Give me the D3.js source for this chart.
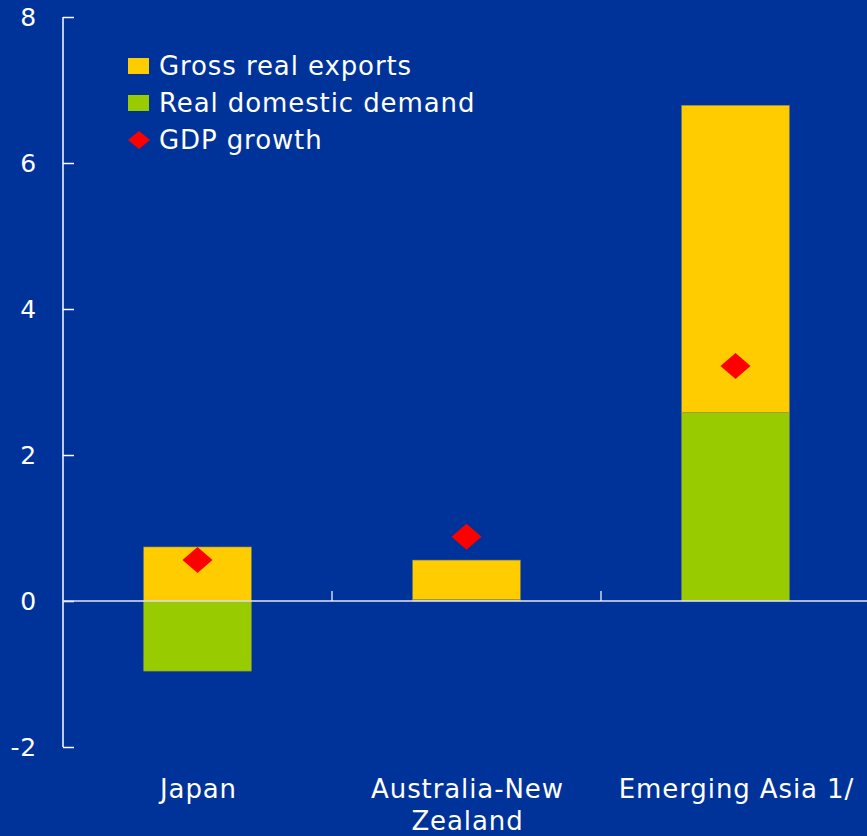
<!DOCTYPE html>
<html>
<head>
<meta charset="utf-8">
<script src="https://cdn.jsdelivr.net/npm/d3@7"></script>
<style>
  html, body { margin: 0; padding: 0; background: #003399; }
  svg { display: block; }
  text { font-family: "DejaVu Sans", Verdana, sans-serif; fill: #ffffff; }
</style>
</head>
<body>
<svg id="chart" width="867" height="836"></svg>
<script>
// Contributions to growth, percentage points
const categories = ["Japan", "Australia-New Zealand", "Emerging Asia 1/"];
const categoryLines = [["Japan"], ["Australia-New", "Zealand"], ["Emerging Asia 1/"]];
const domesticDemand = [-0.96, 0.02, 2.58];
const grossExports = [0.74, 0.54, 4.21];
const gdpGrowth = [0.56, 0.88, 3.22];
const yTicks = [-2, 0, 2, 4, 6, 8];
const legendLabels = ["Gross real exports", "Real domestic demand", "GDP growth"];

const colors = { exports: "#ffcc00", domestic: "#99cc00", gdp: "#ff0000", bg: "#003399" };

const svg = d3.select("#chart");
const W = 867, H = 836;
svg.append("rect").attr("width", W).attr("height", H).attr("fill", colors.bg);

const x = d3.scaleBand().domain(categories).range([63, 870]).padding(0);
const y = d3.scaleLinear().domain([-2, 8]).range([747, 17]);
const barW = x.bandwidth() * 0.4;

const rows = categories.map((c, i) => ({
  cat: c, domestic: domesticDemand[i], exports: grossExports[i], gdp: gdpGrowth[i]
}));
const stack = d3.stack().keys(["domestic", "exports"]).offset(d3.stackOffsetDiverging);
const series = stack(rows);

const g = svg.append("g");
series.forEach(s => {
  g.append("g").selectAll("rect").data(s).join("rect")
    .attr("x", d => x(d.data.cat) + (x.bandwidth() - barW) / 2)
    .attr("y", d => y(Math.max(d[0], d[1])))
    .attr("width", barW)
    .attr("height", d => Math.abs(y(d[0]) - y(d[1])))
    .attr("fill", colors[s.key])
    .attr("stroke", "#8a8a55")
    .attr("stroke-width", 0.6);
});

// Y axis
const yAxis = d3.axisRight(y).tickValues(yTicks).tickSize(11).tickFormat("");
const ya = svg.append("g").attr("transform", "translate(63,0)").call(yAxis);
ya.select(".domain").attr("stroke", "#ffffff").attr("stroke-width", 1.5).attr("d", `M0,${y(8)}V${y(-2)}`);
ya.selectAll(".tick line").attr("stroke", "#ffffff").attr("stroke-width", 1.5);

svg.append("g").selectAll("text").data(yTicks).join("text")
  .attr("x", 37).attr("y", d => y(d) + 9)
  .attr("text-anchor", "end")
  .attr("font-size", 25)
  .attr("letter-spacing", 0.8)
  .text(d => d);

// Zero line with category separators
svg.append("line")
  .attr("x1", 63).attr("x2", W).attr("y1", y(0)).attr("y2", y(0))
  .attr("stroke", "#e6e6f0").attr("stroke-width", 1.5);
svg.append("g").selectAll("line").data(categories.slice(1)).join("line")
  .attr("x1", d => x(d)).attr("x2", d => x(d))
  .attr("y1", y(0)).attr("y2", y(0) - 10)
  .attr("stroke", "#ffffff").attr("stroke-width", 1.2);

// GDP markers
const diamond = (cx, cy, hw, hh) => `M${cx},${cy - hh}L${cx + hw},${cy}L${cx},${cy + hh}L${cx - hw},${cy}Z`;
svg.append("g").selectAll("path").data(rows).join("path")
  .attr("d", d => diamond(x(d.cat) + x.bandwidth() / 2, y(d.gdp), 15, 13))
  .attr("fill", colors.gdp);

// Category labels
const labels = svg.append("g");
categoryLines.forEach((lines, i) => {
  const cx = x(categories[i]) + x.bandwidth() / 2 + 1;
  const t = labels.append("text")
    .attr("x", cx)
    .attr("y", 798)
    .attr("text-anchor", "middle")
    .attr("font-size", 26)
    .attr("letter-spacing", 0.9);
  lines.forEach((ln, j) => {
    t.append("tspan").attr("x", cx).attr("dy", j === 0 ? 0 : 32).text(ln);
  });
});

// Legend
const legend = svg.append("g");
const legendY = [66, 103, 140];
legend.append("rect").attr("x", 128).attr("y", legendY[0] - 8).attr("width", 21).attr("height", 16).attr("fill", colors.exports);
legend.append("rect").attr("x", 128).attr("y", legendY[1] - 8).attr("width", 21).attr("height", 16).attr("fill", colors.domestic);
legend.append("path").attr("d", diamond(139, legendY[2], 11, 9)).attr("fill", colors.gdp);
legend.selectAll("text").data(legendLabels).join("text")
  .attr("x", 159).attr("y", (d, i) => legendY[i] + 9)
  .attr("font-size", 26)
  .attr("letter-spacing", 0.9)
  .text(d => d);
</script>
</body>
</html>
